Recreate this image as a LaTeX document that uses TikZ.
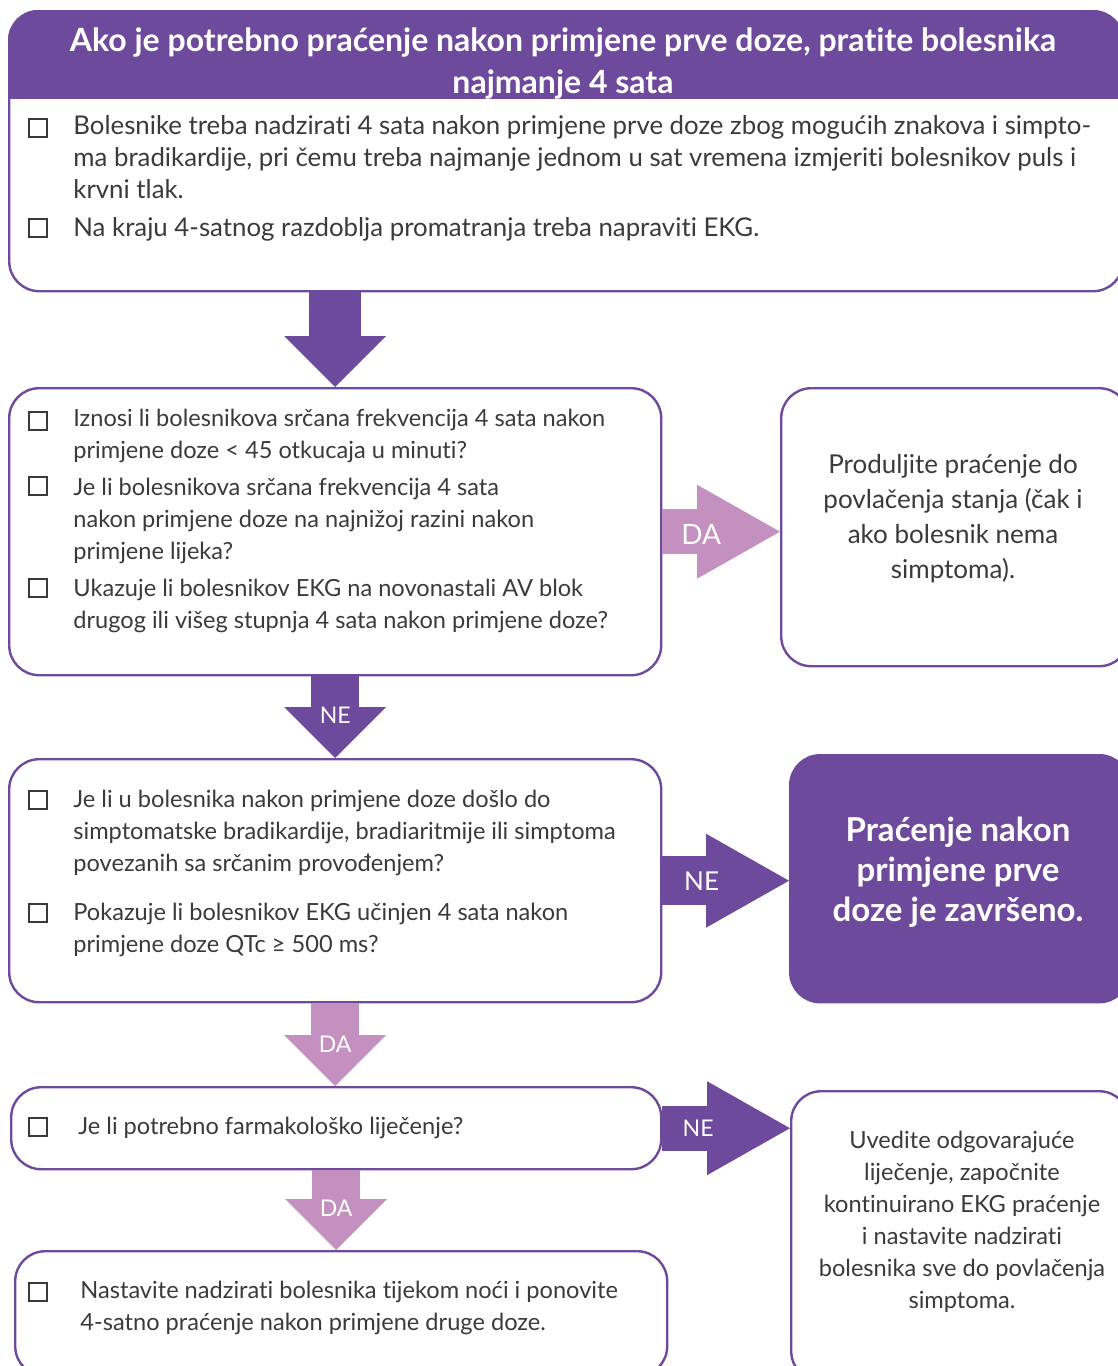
\documentclass[tikz,border=0pt]{standalone}
\usepackage{fontspec}
\setmainfont[Ligatures=NoCommon]{Lato}
\usetikzlibrary{arrows.meta}
\definecolor{purp}{HTML}{6E4A9C}
\definecolor{pinkda}{HTML}{C490C0}
\definecolor{txt}{HTML}{3A3A3A}

\begin{document}
\begin{tikzpicture}[x=0.5pt,y=-0.5pt,
    box/.style={draw=purp,line width=1.2pt,rounded corners=15pt,anchor=north west,inner sep=0pt},
    chk/.style={draw=txt,line width=1pt,minimum size=9pt,inner sep=0pt},
    item/.style={anchor=base west,inner sep=0pt,align=left,text=txt,font=\fontsize{11.8}{16}\selectfont},
    note/.style={inner sep=0pt,align=center,text=txt,font=\fontsize{11.8}{16}\selectfont},
    godown/.style={draw=#1,line width=24pt,-{Triangle[length=25.5pt,width=51pt,line width=0pt]}},
    goright/.style={draw=#1,line width=22.5pt,-{Triangle[length=41.5pt,width=47pt,line width=0pt]}},
    lbl/.style={text=white,inner sep=0pt,font=\fontsize{11.5}{12}\selectfont}
]
\clip (0,0) rectangle (1118,1366);

% header
\begin{scope}
  \clip (0,0) rectangle (1130,98);
  \fill[purp,rounded corners=15pt] (8,10) rectangle (1122,290);
\end{scope}
\node[text=white,align=center,inner sep=0pt,font=\bfseries\fontsize{16}{21}\selectfont] (hd) at (563,63)
  {Ako je potrebno praćenje nakon primjene prve doze, pratite bolesnika\\najmanje 4 sata};

% boxes
\node[box,minimum width=557pt,minimum height=140pt] (q1) at (8,10) {};
\node[box,minimum width=326pt,minimum height=143.5pt] (q2) at (8,387) {};
\node[box,minimum width=174pt,minimum height=139pt] (r1) at (780,387) {};
\node[box,minimum width=326pt,minimum height=121.5pt] (q3) at (8,758) {};
\node[box,fill=purp,minimum width=169.5pt,minimum height=123.5pt] (done) at (789,754) {};
\node[box,minimum width=325pt,minimum height=41pt] (q4) at (10,1086) {};
\node[box,minimum width=169pt,minimum height=145pt] (r3) at (790,1090) {};
\node[box,minimum width=326pt,minimum height=62.5pt] (q5) at (14,1250) {};

% box 1
\node[chk] (c11) at (38,128) {};
\node[item,font=\fontsize{12.9}{16}\selectfont] (t11) at (73,198) {Bolesnike treba nadzirati 4 sata nakon primjene prve doze zbog mogućih znakova i simpto-\\ma bradikardije, pri čemu treba najmanje jednom u sat vremena izmjeriti bolesnikov puls i\\krvni tlak.};
\node[chk] (c12) at (38,228) {};
\node[item,font=\fontsize{12.9}{16}\selectfont] (t12) at (73,236) {Na kraju 4-satnog razdoblja promatranja treba napraviti EKG.};

% box 2
\node[chk] (c21) at (38,421) {};
\node[item] (t21) at (73,458) {Iznosi li bolesnikova srčana frekvencija 4 sata nakon\\primjene doze < 45 otkucaja u minuti?};
\node[chk] (c22) at (38,486) {};
\node[item] (t22) at (73,559) {Je li bolesnikova srčana frekvencija 4 sata\\nakon primjene doze na najnižoj razini nakon\\primjene lijeka?};
\node[chk] (c23) at (38,588) {};
\node[item] (t23) at (73,628) {Ukazuje li bolesnikov EKG na novonastali AV blok\\drugog ili višeg stupnja 4 sata nakon primjene doze?};

\node[note,font=\fontsize{13}{17.5}\selectfont] (n1) at (953,519) {Produljite praćenje do\\povlačenja stanja (čak i\\ako bolesnik nema\\simptoma).};

% box 3
\node[chk] (c31) at (38,800) {};
\node[item] (t31) at (73,871) {Je li u bolesnika nakon primjene doze došlo do\\simptomatske bradikardije, bradiaritmije ili simptoma\\povezanih sa srčanim provođenjem?};
\node[chk] (c32) at (38,913) {};
\node[item] (t32) at (73,952) {Pokazuje li bolesnikov EKG učinjen 4 sata nakon\\primjene doze QTc ≥ 500 ms?};

\node[note,text=white,font=\bfseries\fontsize{16.5}{20}\selectfont] (n2) at (958,872) {Praćenje nakon\\primjene prve\\doze je završeno.};

% box 4 and 5
\node[chk] (c41) at (38,1127) {};
\node[item] (t41) at (78,1134) {Je li potrebno farmakološko liječenje?};
\node[chk] (c51) at (38,1292) {};
\node[item] (t51) at (80,1330) {Nastavite nadzirati bolesnika tijekom noći i ponovite\\4-satno praćenje nakon primjene druge doze.};

\node[note] (n3) at (962,1222) {Uvedite odgovarajuće\\liječenje, započnite\\kontinuirano EKG praćenje\\i nastavite nadzirati\\bolesnika sve do povlačenja\\simptoma.};

% arrows
\draw[godown=purp,line width=26pt] (q1.south -| q2.north) -- (q2.north);
\draw[godown=purp] (q2.south) -- (q3.north) node[lbl,pos=0.47] {NE};
\draw[godown=pinkda] (q3.south) -- (q3.south |- q4.north) node[lbl,pos=0.5] {DA};
\draw[godown=pinkda] (q4.south) -- (q4.south |- q5.north) node[lbl,pos=0.47] {DA};
\draw[goright=pinkda] (q2.east) -- (r1.west |- q2.east) node[lbl,pos=0.33,yshift=-1.5pt,font=\fontsize{14}{15}\selectfont] {DA};
\draw[goright=purp,line width=24.5pt] (q3.east) -- (done.west |- q3.east) node[lbl,pos=0.31,font=\fontsize{13}{14}\selectfont] {NE};
\draw[goright=purp] (q4.east) -- (r3.west |- q4.east) node[lbl,pos=0.28] {NE};

\end{tikzpicture}
\end{document}
